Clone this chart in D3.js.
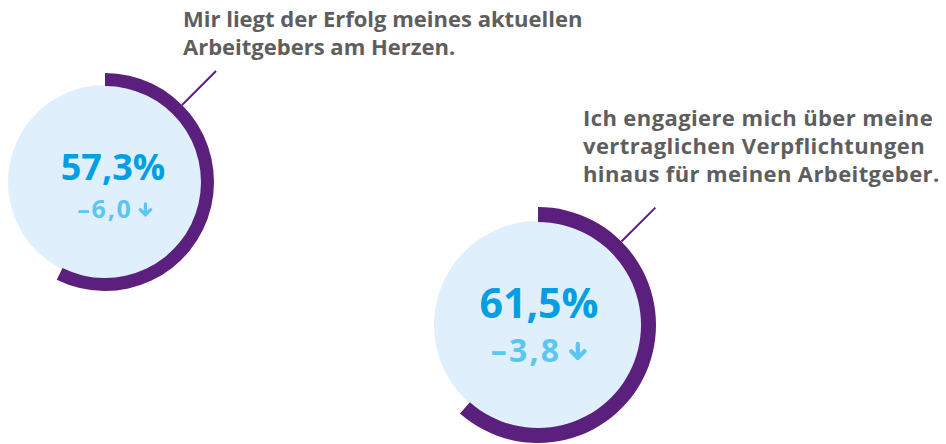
<!DOCTYPE html>
<html>
<head>
<meta charset="utf-8">
<script src="https://cdn.jsdelivr.net/npm/d3@7"></script>
<style>
  html, body { margin: 0; padding: 0; background: #fff; }
  svg { display: block; font-family: "Open Sans", "Noto Sans", sans-serif; }
</style>
</head>
<body>
<svg id="chart" width="946" height="444"></svg>
<script>
// Werte aus der Grafik
const values = [57.3, 61.5];
const deltas = [-6.0, -3.8];
const labels = [
  ["Mir liegt der Erfolg meines aktuellen", "Arbeitgebers am Herzen."],
  ["Ich engagiere mich über meine", "vertraglichen Verpflichtungen", "hinaus für meinen Arbeitgeber."]
];

// Layout je Kreis
const layout = [
  {cx: 105, cy: 182, r: 96, ring: 13, dx: 8, valueSize: 36, valueY: -2,
   deltaDx: 10, deltaSize: 25, deltaSpacing: 1.8, deltaY: 36, labelX: 183, labelY: 27, labelSpacing: 0},
  {cx: 538, cy: 325, r: 103, ring: 15, dx: 1, valueSize: 41, valueY: -7,
   deltaDx: 1, deltaSize: 32, deltaSpacing: 2.2, deltaY: 37, labelX: 583, labelY: 126, labelSpacing: 0.4}
];

const svg = d3.select("#chart");
const angle = d3.scaleLinear().domain([0, 100]).range([0, 2 * Math.PI]);
const fmt = v => d3.format(".1f")(v).replace(".", ",").replace("−", "–");
const purple = "#5b1f7e";
const lightBlue = "#5cc6f2";

values.forEach((v, i) => {
  const L = layout[i];
  const g = svg.append("g").attr("transform", `translate(${L.cx},${L.cy})`);

  // Hintergrundkreis
  g.append("circle").attr("r", L.r + 1).attr("fill", "#dff0fc");

  // Ring für den Anteil
  const arc = d3.arc()
    .innerRadius(L.r)
    .outerRadius(L.r + L.ring)
    .startAngle(0)
    .endAngle(angle(v));
  g.append("path").attr("d", arc()).attr("fill", purple);

  // Verbindungslinie zum Text
  const a = Math.PI / 4;
  g.append("line")
    .attr("x1", Math.sin(a) * (L.r + L.ring))
    .attr("y1", -Math.cos(a) * (L.r + L.ring))
    .attr("x2", Math.sin(a) * (L.r + L.ring + 48))
    .attr("y2", -Math.cos(a) * (L.r + L.ring + 48))
    .attr("stroke", purple)
    .attr("stroke-width", 2);

  // Wert
  g.append("text")
    .attr("x", L.dx)
    .attr("y", L.valueY)
    .attr("text-anchor", "middle")
    .attr("font-size", L.valueSize)
    .attr("font-weight", 700)
    .attr("fill", "#009ee3")
    .text(fmt(v) + "%");

  // Veränderung mit Pfeil
  const s = L.deltaSize / 24;
  const dg = g.append("g").attr("transform", `translate(0,${L.deltaY})`);
  const dt = dg.append("text")
    .attr("font-size", L.deltaSize)
    .attr("font-weight", 700)
    .attr("letter-spacing", L.deltaSpacing)
    .attr("fill", lightBlue)
    .text(fmt(deltas[i]));
  const w = dt.node().getComputedTextLength() - L.deltaSpacing;
  const gap = 7 * s, arrowW = 14 * s;
  const x0 = L.deltaDx - (w + gap + arrowW) / 2;
  dt.attr("x", x0);
  const ax = x0 + w + gap + arrowW / 2;
  dg.append("path")
    .attr("d", `M${ax},${-13.5 * s}V${-3.5 * s}M${ax - 5 * s},${-8 * s}L${ax},${-3 * s}L${ax + 5 * s},${-8 * s}`)
    .attr("fill", "none")
    .attr("stroke", lightBlue)
    .attr("stroke-width", 3.2 * s)
    .attr("stroke-linecap", "round")
    .attr("stroke-linejoin", "round");

  // Beschriftung
  const t = svg.append("text")
    .attr("x", L.labelX)
    .attr("y", L.labelY)
    .attr("font-size", 22)
    .attr("font-weight", 700)
    .attr("letter-spacing", L.labelSpacing)
    .attr("fill", "#5e5e5e");
  labels[i].forEach((line, k) => {
    t.append("tspan").attr("x", L.labelX).attr("y", L.labelY + k * 28).text(line);
  });
});
</script>
</body>
</html>
